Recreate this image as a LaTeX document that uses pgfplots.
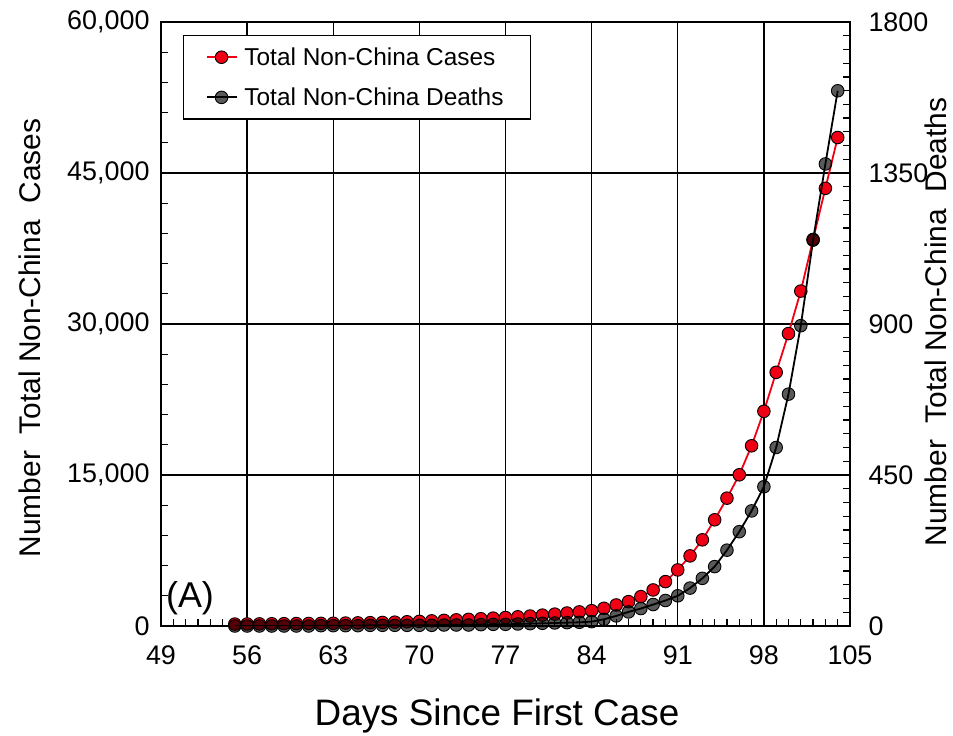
\documentclass[border=0pt]{standalone}
\usepackage{pgfplots}
\pgfplotsset{compat=1.18}
\usepackage{pgfplotstable}
\usepackage{fontspec}
\setmainfont{Liberation Sans}
\definecolor{cred}{RGB}{240,0,20}

\pgfplotstableread{
day cases deaths
55 190 0
56 200 0
57 210 0
58 220 0
59 230 0
60 240 0
61 250 0
62 260 1
63 270 1
64 290 1
65 310 1
66 330 2
67 350 2
68 380 2
69 420 2
70 460 2
71 510 2
72 560 3
73 610 3
74 660 3
75 720 4
76 780 5
77 840 5
78 910 6
79 990 7
80 1080 8
81 1180 9
82 1290 10
83 1400 11
84 1520 13
85 1760 20
86 2090 30
87 2420 42
88 2920 52
89 3580 64
90 4410 76
91 5570 90
92 6965 113
93 8560 142
94 10550 177
95 12700 226
96 15020 281
97 17900 343
98 21330 415
99 25200 532
100 29050 691
101 33270 895
102 38400 1150
103 43480 1377
104 48526 1595
}\data

\begin{document}
\begin{tikzpicture}
\useasboundingbox (-161bp,-110bp) rectangle (792bp,626bp);
\begin{axis}[
  name=main, at={(0,0)}, anchor=south west,
  scale only axis, width=689bp, height=604bp,
  xmin=49, xmax=105, ymin=0, ymax=60000,
  xtick={49,56,...,105}, minor x tick num=6,
  ytick={0,15000,...,60000}, minor y tick num=4,
  scaled y ticks=false,
  xtick pos=bottom, ytick pos=left,
  tick align=inside,
  grid=major, major grid style={black, line width=1.3bp},
  axis line style={line width=2.6bp},
  every tick/.style={black, line width=1.3bp},
  major tick length=8bp, minor tick length=7bp,
  tick label style={font=\fontsize{27}{30}\selectfont},
  /pgf/number format/assume math mode=true,
  yticklabel style={/pgf/number format/1000 sep={,}, xshift=-8bp},
  xticklabel style={yshift=-16bp},
  legend style={at={(22bp,591bp)}, anchor=north west, draw=black, line width=1.3bp,
    font=\fontsize{24.5}{26}\selectfont, cells={anchor=west}, row sep=17bp,
    inner xsep=16bp, inner ysep=10bp},
  legend cell align=left,
  legend image code/.code={\path (0bp,0bp); \draw[mark repeat=2, mark phase=2] plot coordinates {(6bp,0bp) (21bp,0bp) (36bp,0bp)};},
]
\addplot[cred, line width=1.8bp, mark=*, mark size=6.3bp, mark options={fill=cred, draw=black, line width=0.9bp}] table[x=day, y=cases] {\data};
\addlegendentry{\hspace*{5bp}Total Non-China Cases}
\addlegendimage{black, line width=1.8bp, mark=*, mark size=6.3bp, mark options={fill=black, fill opacity=0.65, draw=black, line width=0.9bp}}
\addlegendentry{\hspace*{5bp}Total Non-China Deaths\hspace*{9bp}}
\end{axis}
\begin{axis}[
  at={(0,0)}, anchor=south west,
  scale only axis, width=689bp, height=604bp,
  xmin=49, xmax=105, ymin=0, ymax=1800,
  hide x axis,
  ytick={0,450,...,1800}, minor y tick num=10,
  ytick pos=right, tick align=inside,
  axis line style={line width=2.6bp},
  every tick/.style={black, line width=1.3bp},
  major tick length=8bp, minor tick length=7bp,
  tick label style={font=\fontsize{27}{30}\selectfont},
  /pgf/number format/assume math mode=true,
  yticklabel style={/pgf/number format/1000 sep={}, xshift=15bp},
]
\addplot[black, line width=1.8bp, mark=*, mark size=6.3bp, mark options={fill=black, fill opacity=0.65, draw=black, line width=0.9bp}] table[x=day, y=deaths] {\data};
\end{axis}
\node[font=\fontsize{36}{40}\selectfont] at (29bp,28bp) {(A)};
\node[rotate=90, inner sep=0pt, font=\fontsize{30}{34}\selectfont] at (-131bp,288bp) {Number\ \ Total Non-China\ \ Cases};
\node[rotate=90, inner sep=0pt, font=\fontsize{30}{34}\selectfont] at (775bp,304bp) {Number\ \ Total Non-China\ \ Deaths};
\node[font=\fontsize{37}{40}\selectfont] at (336bp,-90bp) {Days Since First Case};
\end{tikzpicture}
\end{document}
